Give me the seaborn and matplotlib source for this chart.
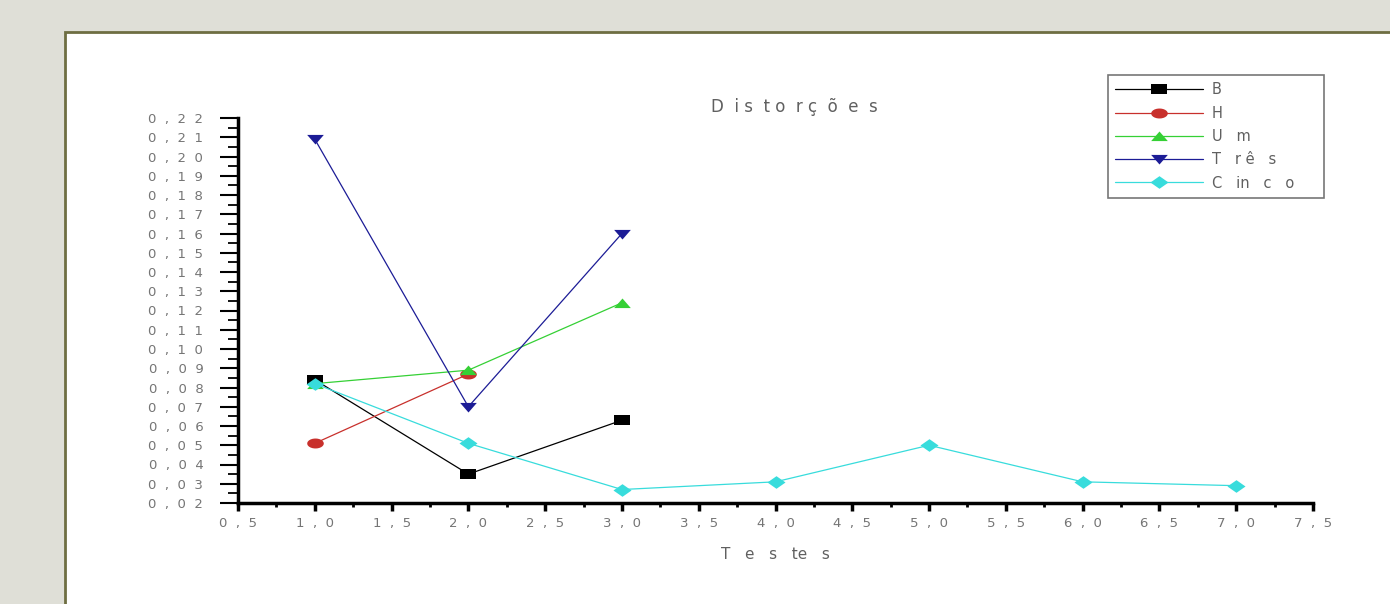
import pandas as pd
import seaborn as sns
import matplotlib.pyplot as plt
from matplotlib.patches import Rectangle
from matplotlib.ticker import MultipleLocator, FixedLocator
import numpy as np
sns.set_style("white")

# values
testes_b = [1, 2, 3]
dist_b = [0.084, 0.035, 0.063]
testes_h = [1, 2]
dist_h = [0.051, 0.087]
testes_um = [1, 2, 3]
dist_um = [0.082, 0.089, 0.124]
testes_tres = [1, 2, 3]
dist_tres = [0.209, 0.070, 0.160]
testes_cinco = [1, 2, 3, 4, 5, 6, 7]
dist_cinco = [0.082, 0.051, 0.027, 0.031, 0.050, 0.031, 0.029]

series_names = ["B", "H", "U   m", "T   r ê   s", "C   in   c   o     "]
colors = ["#000000", "#c8302c", "#35d035", "#1c1c96", "#38dcdc"]

# wide, flat marker shapes like the original program draws
ell = np.linspace(0, 2 * np.pi, 24)
markers = [
    [(-1, -0.55), (1, -0.55), (1, 0.55), (-1, 0.55)],
    list(zip(np.cos(ell), 0.6 * np.sin(ell))),
    [(-1, -0.55), (1, -0.55), (0, 0.6)],
    [(-1, 0.55), (1, 0.55), (0, -0.6)],
    [(-1, 0), (0, 0.7), (1, 0), (0, -0.7)],
]
msizes = [12, 12, 12, 12, 13]

frames = []
for name, xs, ys in zip(series_names,
                        [testes_b, testes_h, testes_um, testes_tres, testes_cinco],
                        [dist_b, dist_h, dist_um, dist_tres, dist_cinco]):
    frames.append(pd.DataFrame({"teste": xs, "dist": ys, "serie": name}))
df = pd.concat(frames, ignore_index=True)


def spaced(v, nd):
    s = f"{v:.{nd}f}".replace(".", ",")
    return "  ".join(s)


fig = plt.figure(figsize=(13.9, 6.04), dpi=100)
fig.patch.set_facecolor("#dfdfd7")
fig.patches.append(Rectangle((65 / 1390, -0.1), 1.2, (604 - 32) / 604 + 0.1,
                             transform=fig.transFigure, facecolor="white",
                             edgecolor="#6e6e42", lw=2, zorder=-10))

ax = fig.add_axes([238 / 1390, (604 - 503) / 604, (1313 - 238) / 1390, (503 - 118) / 604])
ax.set_zorder(5)
ax.set_facecolor("none")

for name, col, mk, ms in zip(series_names, colors, markers, msizes):
    sub = df[df["serie"] == name]
    sns.lineplot(data=sub, x="teste", y="dist", color=col, marker=mk,
                 markersize=ms, markeredgewidth=0, linewidth=0.9, label=name,
                 ax=ax, legend=False)

ax.set_xlim(0.5, 7.5)
ax.set_ylim(0.02, 0.22)
xt = np.arange(0.5, 7.51, 0.5)
yt = np.arange(0.02, 0.2201, 0.01)
ax.xaxis.set_major_locator(FixedLocator(xt))
ax.yaxis.set_major_locator(FixedLocator(yt))
ax.xaxis.set_minor_locator(MultipleLocator(0.25))
ax.yaxis.set_minor_locator(MultipleLocator(0.005))
ax.set_xticklabels([spaced(v, 1) for v in xt])
ax.set_yticklabels([spaced(v, 2) for v in yt])
ax.tick_params(axis="y", which="major", direction="out", length=13, width=1.5,
               color="black", labelsize=9.5, labelcolor="#757575", pad=12, left=True)
ax.tick_params(axis="y", which="minor", direction="out", length=7, width=1.3,
               color="black", left=True)
ax.tick_params(axis="x", which="major", direction="out", length=6, width=2.5,
               color="black", labelsize=9.5, labelcolor="#757575", pad=4, bottom=True)
ax.tick_params(axis="x", which="minor", direction="out", length=3, width=2,
               color="black", bottom=True)
for side in ["top", "right"]:
    ax.spines[side].set_visible(False)
for side in ["left", "bottom"]:
    ax.spines[side].set_linewidth(2.5)
    ax.spines[side].set_color("black")

ax.set_xlabel("T   e   s   te   s", fontsize=11, color="#606060", labelpad=12)
ax.set_ylabel("")
ax.text((794 - 238) / 1075, 1.005, "D  i s  t o  r ç  õ  e  s", transform=ax.transAxes,
        ha="center", va="bottom", fontsize=12, color="#606060")

h, l = ax.get_legend_handles_labels()
leg = fig.legend(h, l, loc="upper left", bbox_to_anchor=(1108 / 1390, 1 - 75 / 604),
                 frameon=True, fancybox=False, fontsize=10.5, handlelength=6,
                 labelspacing=0.57, borderpad=0.5, handletextpad=0.6,
                 borderaxespad=0, markerscale=1.0)
leg.get_frame().set_edgecolor("#555555")
leg.get_frame().set_linewidth(1.2)
leg.set_zorder(6)
for t in leg.get_texts():
    t.set_color("#606060")

plt.savefig("out.png", dpi=100, facecolor=fig.get_facecolor())
